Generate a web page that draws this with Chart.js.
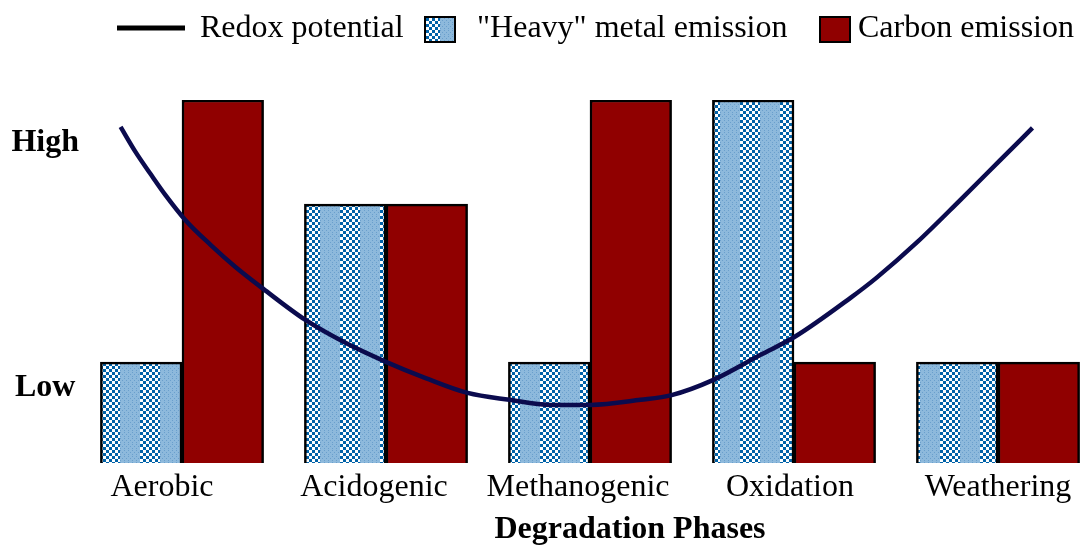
<!DOCTYPE html>
<html>
<head>
<meta charset="utf-8">
<script src="https://cdn.jsdelivr.net/npm/chart.js@4.4.1/dist/chart.umd.min.js"></script>
<style>
  html, body { margin: 0; padding: 0; background: #fff; overflow: hidden; }
  /* plot runs past the right edge, as in the cropped original */
  #wrap { width: 1100px; height: 547px; position: relative; }
</style>
</head>
<body>
<div id="wrap"><canvas id="phase-chart"></canvas></div>
<script>
const phases = ["Aerobic", "Acidogenic", "Methanogenic", "Oxidation", "Weathering"];
const heavyMetal = [2.78, 7.13, 2.78, 10, 2.78];
const carbon = [10, 7.13, 10, 2.78, 2.78];
// redox curve: x in category units (0..5 across the plot), y in level units
const redoxX = [0.199, 0.272, 0.346, 0.419, 0.517, 0.64, 0.762, 0.9, 1.105, 1.301, 1.502, 1.694, 1.9,
  2.105, 2.306, 2.502, 2.748, 2.9, 3.105, 3.336, 3.502, 3.777, 3.904, 4.105, 4.316, 4.512, 4.669];
const redoxY = [9.26, 8.57, 7.96, 7.38, 6.69, 6.01, 5.4, 4.79, 3.94, 3.31, 2.78, 2.34, 1.93,
  1.74, 1.6, 1.6, 1.74, 1.87, 2.29, 2.98, 3.47, 4.55, 5.1, 6.09, 7.25, 8.35, 9.23];
const yTickValues = [2.07, 8.82];
const yTickLabels = ["Low", "High"];
const legendLabels = ["Redox potential", "\"Heavy\" metal emission", "Carbon emission"];
const xTitle = "Degradation Phases";

const serif = "'Liberation Serif', 'Times New Roman', serif";
// labels in the original sit a little left of the bar groups
const labelPad = [5, 3, 3, 1, 0];

function makePattern() {
  const c = document.createElement("canvas");
  c.width = 40;
  c.height = 6;
  const g = c.getContext("2d");
  g.fillStyle = "#8db9dc";
  g.fillRect(0, 0, 20, 6);
  g.fillStyle = "#6a9fcc";
  for (let x = 0; x < 20; x += 2) {
    for (let y = 0; y < 6; y += 2) {
      if (((x + y) / 2) % 2 == 0) g.fillRect(x, y, 1, 1);
    }
  }
  g.fillStyle = "#ffffff";
  g.fillRect(20, 0, 20, 6);
  g.fillStyle = "#0062a8";
  for (let x = 20; x < 40; x += 3) {
    for (let y = 0; y < 6; y += 3) {
      if (((x - 20) / 3 + y / 3) % 2 == 0) g.fillRect(x, y, 3, 3);
    }
  }
  return g.createPattern(c, "repeat");
}

const pattern = makePattern();

// legend + axis title drawn by hand (mixed line / box items)
const customLegend = {
  id: "customLegend",
  afterDraw(chart) {
    const ctx = chart.ctx;
    const y = 28;
    ctx.save();
    ctx.font = "32px " + serif;
    ctx.fillStyle = "#000";
    ctx.textBaseline = "middle";
    ctx.textAlign = "left";
    ctx.strokeStyle = "#000";
    ctx.lineWidth = 5;
    ctx.beginPath();
    ctx.moveTo(117, y);
    ctx.lineTo(185, y);
    ctx.stroke();
    ctx.fillText(legendLabels[0], 200, y + 1);

    ctx.fillStyle = pattern;
    ctx.fillRect(425, 17, 30, 25);
    ctx.lineWidth = 2;
    ctx.strokeRect(425, 17, 30, 25);
    ctx.fillStyle = "#000";
    ctx.fillText(legendLabels[1], 477, y + 1);

    ctx.fillStyle = "#900000";
    ctx.fillRect(820, 17, 30, 25);
    ctx.strokeRect(820, 17, 30, 25);
    ctx.fillStyle = "#000";
    ctx.fillText(legendLabels[2], 858, y + 1);

    ctx.font = "bold 32px " + serif;
    ctx.textAlign = "center";
    ctx.fillText(xTitle, 630, 530);
    ctx.restore();
  },
};

const ctx = document.getElementById("phase-chart").getContext("2d");
new Chart(ctx, {
  type: "bar",
  plugins: [customLegend],
  data: {
    labels: phases,
    datasets: [
      {
        type: "line",
        label: legendLabels[0],
        data: redoxX.map((x, i) => ({ x: x, y: redoxY[i] })),
        xAxisID: "x2",
        borderColor: "#0b0b4e",
        borderWidth: 4.5,
        pointRadius: 0,
        cubicInterpolationMode: "monotone",
        fill: false,
        order: 0,
      },
      {
        label: legendLabels[1],
        data: heavyMetal,
        backgroundColor: pattern,
        borderColor: "#000",
        borderWidth: 2.5,
        barThickness: 81.6,
        order: 1,
      },
      {
        label: legendLabels[2],
        data: carbon,
        backgroundColor: "#900000",
        borderColor: "#000",
        borderWidth: 2.5,
        barThickness: 81.6,
        order: 1,
      },
    ],
  },
  options: {
    responsive: true,
    maintainAspectRatio: false,
    animation: false,
    layout: { padding: { top: 100, right: 0, left: 0, bottom: 0 } },
    plugins: {
      legend: { display: false },
      tooltip: { enabled: false },
    },
    scales: {
      x: {
        grid: { display: false },
        border: { display: false },
        ticks: {
          color: "#000",
          padding: -3,
          autoSkip: false,
          maxRotation: 0,
          minRotation: 0,
          callback: (v, i) => phases[i] + " ".repeat(labelPad[i]),
          font: { size: 32, family: serif },
        },
        afterFit: (s) => { s.height = 84; },
      },
      x2: {
        type: "linear",
        display: false,
        offset: false,
        min: 0,
        max: 5,
      },
      y: {
        min: 0,
        max: 10,
        grid: { display: false },
        border: { display: false },
        afterBuildTicks: (s) => { s.ticks = yTickValues.map((v) => ({ value: v })); },
        afterFit: (s) => { s.width = 80; },
        ticks: {
          color: "#000",
          padding: -7,
          crossAlign: "center",
          callback: (v, i) => yTickLabels[i],
          font: { size: 32, family: serif, weight: "bold" },
        },
      },
    },
  },
});
</script>
</body>
</html>
